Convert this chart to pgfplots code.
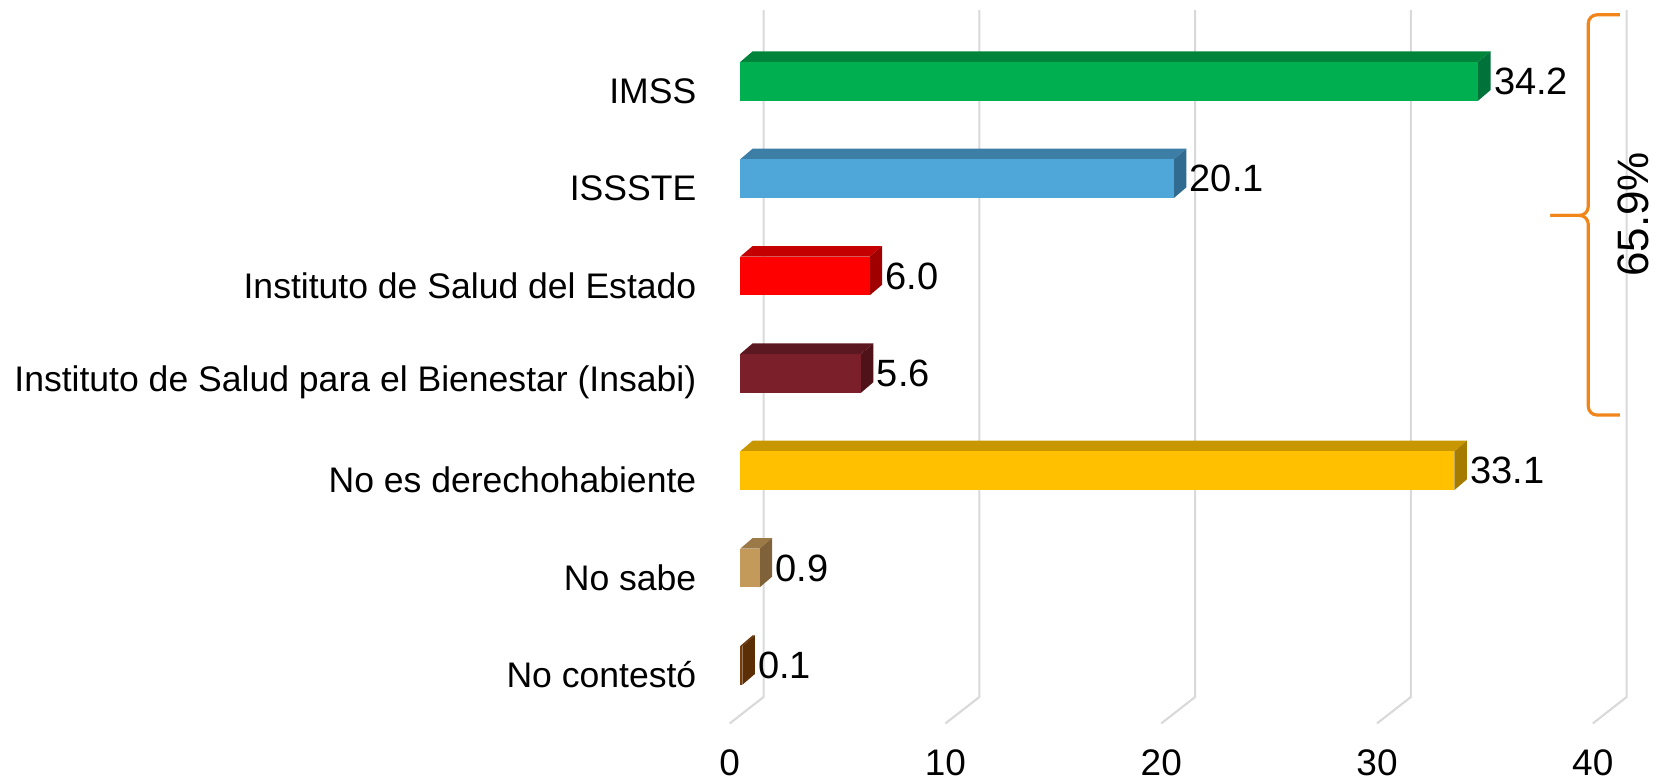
\documentclass[border=0pt]{standalone}
\usepackage{pgfplots}
\pgfplotsset{compat=1.18}
\usepackage{pgfplotstable}
\usepackage{fontspec}
\setmainfont{Liberation Sans}

% colours per category index: F = front, T = top, S = side
\definecolor{c7F}{HTML}{00B050}\definecolor{c7T}{HTML}{00843C}\definecolor{c7S}{HTML}{00733A}
\definecolor{c6F}{HTML}{4FA6D9}\definecolor{c6T}{HTML}{3C7EA6}\definecolor{c6S}{HTML}{316C90}
\definecolor{c5F}{HTML}{FF0000}\definecolor{c5T}{HTML}{C40000}\definecolor{c5S}{HTML}{A00000}
\definecolor{c4F}{HTML}{7B1F2A}\definecolor{c4T}{HTML}{5C1820}\definecolor{c4S}{HTML}{4F1219}
\definecolor{c3F}{HTML}{FFC000}\definecolor{c3T}{HTML}{C89600}\definecolor{c3S}{HTML}{A57C00}
\definecolor{c2F}{HTML}{C49A5A}\definecolor{c2T}{HTML}{9C7A47}\definecolor{c2S}{HTML}{7F6239}
\definecolor{c1F}{HTML}{7A3C08}\definecolor{c1T}{HTML}{6A3407}\definecolor{c1S}{HTML}{5C2E06}
\definecolor{gridc}{HTML}{D9D9D9}
\definecolor{braceor}{HTML}{F28519}

\pgfdeclareplotmark{nothing}{}

\pgfplotstableread{
y v
7 34.2
6 20.1
5 6.0
4 5.6
3 33.1
2 0.9
1 0.1
}\datatable

\begin{document}
\begin{tikzpicture}
\begin{axis}[
  x=6.129pt, y=27.65pt,
  xmin=0, xmax=40, ymin=0.403, ymax=7.75,
  clip=false,
  axis line style={draw=none},
  major tick length=0pt,
  xtick pos=bottom, ytick pos=left,
  xtick={0,10,20,30,40},
  ytick={1,...,7},
  yticklabels={No contestó, No sabe, No es derechohabiente, Instituto de Salud para el Bienestar (Insabi), Instituto de Salud del Estado, ISSSTE, IMSS},
  yticklabel style={anchor=east, inner sep=0pt, xshift=-12.3pt, yshift=-2.7pt, font=\fontsize{10.1}{12}\selectfont},
  xticklabel style={anchor=center, inner sep=0pt, xshift=-3pt, yshift=-11.1pt, font=\fontsize{10.5}{12}\selectfont},
  /pgf/number format/assume math mode=true,
]
% 3D back-wall grid lines with floor diagonals
\draw[gridc, line width=0.6pt] (axis cs:-0.49,0.403) -- (axis cs:1.08,0.6745) -- (axis cs:1.08,7.73);
\draw[gridc, line width=0.6pt] (axis cs:9.51,0.403) -- (axis cs:11.08,0.6745) -- (axis cs:11.08,7.73);
\draw[gridc, line width=0.6pt] (axis cs:19.51,0.403) -- (axis cs:21.08,0.6745) -- (axis cs:21.08,7.73);
\draw[gridc, line width=0.6pt] (axis cs:29.51,0.403) -- (axis cs:31.08,0.6745) -- (axis cs:31.08,7.73);
\draw[gridc, line width=0.6pt] (axis cs:39.51,0.403) -- (axis cs:41.08,0.6745) -- (axis cs:41.08,7.73);

% 3D bars (front, top and side faces) drawn at each data point
\addplot[scatter, only marks, mark=nothing,
  visualization depends on={\thisrow{v} \as \bval},
  visualization depends on={\thisrow{y} \as \bidx},
  scatter/@pre marker code/.code={%
    \pgfmathsetmacro\negv{-\bval}%
    \pgfmathtruncatemacro\ii{round(\bidx)}%
    \edef\bcf{c\ii F}\edef\bct{c\ii T}\edef\bcs{c\ii S}%
    \fill[draw=none, fill=\bct] ([shift={(0pt,5.5pt)}]axis direction cs:\negv,0) -- (0pt,5.5pt) -- (3.5pt,8.5pt) -- ([shift={(3.5pt,8.5pt)}]axis direction cs:\negv,0) -- cycle;
    \fill[draw=none, fill=\bcs] (0pt,-5.5pt) -- (3.5pt,-2.5pt) -- (3.5pt,8.5pt) -- (0pt,5.5pt) -- cycle;
    \fill[draw=none, fill=\bcf] ([shift={(0pt,-5.5pt)}]axis direction cs:\negv,0) rectangle (0pt,5.5pt);
  },
  scatter/@post marker code/.code={},
] table[x=v,y=y] {\datatable};

% value labels
\addplot[only marks, mark=nothing,
  point meta=x,
  nodes near coords={\pgfmathprintnumber[fixed,fixed zerofill,precision=1,assume math mode=true]{\pgfplotspointmeta}},
  every node near coord/.append style={anchor=west, inner sep=0pt, xshift=4.3pt, text=black, font=\fontsize{10.8}{12}\selectfont},
] table[x=v,y=y] {\datatable};

% brace
\draw[braceor, line width=0.9pt, rounded corners=2.5pt] (axis cs:40.77,7.683) -- (axis cs:39.30,7.683) -- (axis cs:39.30,5.622) -- (axis cs:37.54,5.622);
\draw[braceor, line width=0.9pt, rounded corners=2.5pt] (axis cs:37.54,5.622) -- (axis cs:39.30,5.622) -- (axis cs:39.30,3.571) -- (axis cs:40.77,3.571);
\node[rotate=90, anchor=center, inner sep=0pt, font=\fontsize{12.5}{14}\selectfont] at (axis cs:41.41,5.633) {65.9\%};

\path (axis cs:-34.31,-0.183) rectangle (axis cs:42.44,7.835);
\end{axis}
\end{tikzpicture}
\end{document}
